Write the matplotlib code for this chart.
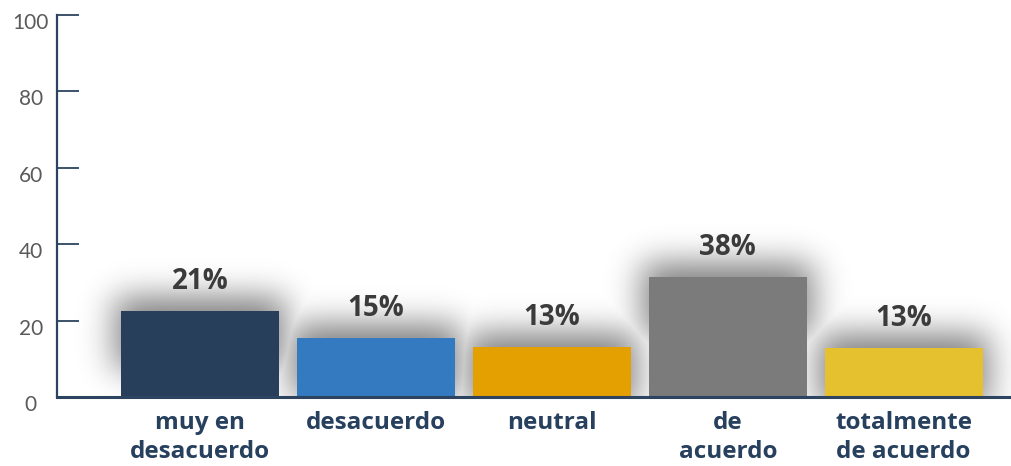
import math
import numpy as np
import matplotlib
matplotlib.use('Agg')
import matplotlib.pyplot as plt
from matplotlib.transforms import ScaledTranslation

# ----------------------------
# Datos
# ----------------------------
categorias = ['muy en\ndesacuerdo', 'desacuerdo', 'neutral', 'de\nacuerdo', 'totalmente\nde acuerdo']
alturas    = [22.5, 15.4, 13.1, 31.4, 12.8]
etiquetas  = ['21%', '15%', '13%', '38%', '13%']
colores    = ['#283f5b', '#337ac0', '#e3a000', '#7b7b7b', '#e5c12f']
yticks     = [0, 20, 40, 60, 80, 100]

navy = '#2c4460'

fig = plt.figure(figsize=(10.11, 4.66), dpi=100)
ax = fig.add_axes([0.0564, 0.148, 0.9436, 0.82])

x = np.arange(len(categorias))
ancho = 0.9
xmin, xmax = -0.8125, 4.61
ax.set_xlim(xmin, xmax)
ax.set_ylim(0, 100)

# ----------------------------
# Sombra difusa detrás de las barras
# ----------------------------
px_x = 1 / 176.0   # unidades de datos por pixel (x)
px_y = 1 / 3.82    # unidades de datos por pixel (y)
gx = np.linspace(xmin, xmax, 1100)
gy = np.linspace(0, 100, 400)
erf = np.vectorize(math.erf)

def perfil(g, a, b, sigma):
    return 0.5 * (erf((g - a) / (math.sqrt(2) * sigma)) - erf((g - b) / (math.sqrt(2) * sigma)))

sombra = np.zeros((len(gy), len(gx)))
for xi, h in zip(x, alturas):
    fx = perfil(gx, xi - ancho / 2 - 6 * px_x, xi + ancho / 2 + 6 * px_x, 17 * px_x)
    fy = perfil(gy, h - 60 * px_y, h + 14 * px_y, 16 * px_y)
    sombra = np.maximum(sombra, np.outer(fy, fx))

rgba = np.zeros((len(gy), len(gx), 4))
rgba[..., 3] = sombra * 0.5
ax.imshow(rgba, extent=(xmin, xmax, 0, 100), origin='lower', aspect='auto',
          interpolation='bilinear', zorder=1)

# ----------------------------
# Barras
# ----------------------------
barras = ax.bar(x, alturas, width=ancho, color=colores, zorder=2)

for b, txt in zip(barras, etiquetas):
    ax.annotate(txt, (b.get_x() + b.get_width() / 2, b.get_height()),
                xytext=(0, 11), textcoords='offset points', ha='center', va='bottom',
                fontsize=20, fontweight='bold', color='#3b3b3b', family='Open Sans', zorder=3)

# ----------------------------
# Ejes
# ----------------------------
for lado in ['top', 'right']:
    ax.spines[lado].set_visible(False)
ax.spines['left'].set_color(navy)
ax.spines['left'].set_linewidth(1.6)
ax.spines['bottom'].set_color(navy)
ax.spines['bottom'].set_linewidth(2.2)
ax.spines['bottom'].set_zorder(4)

ax.set_yticks(yticks)
ax.set_yticklabels([str(v) for v in yticks], fontsize=15, color='#5a5a5a',
                   family='Lato', ha='center')
ax.tick_params(axis='y', direction='in', length=16, width=1.3, color=navy, pad=19)
desplazar = ScaledTranslation(0, -6 / 100, fig.dpi_scale_trans)
for lab in ax.get_yticklabels():
    lab.set_transform(lab.get_transform() + desplazar)

ax.set_xticks(x)
ax.set_xticklabels(categorias, fontsize=17.5, fontweight='bold', color='#27405e',
                   family='Open Sans', linespacing=1.28)
ax.tick_params(axis='x', length=0, pad=10)

fig.savefig('out.png', dpi=100)
